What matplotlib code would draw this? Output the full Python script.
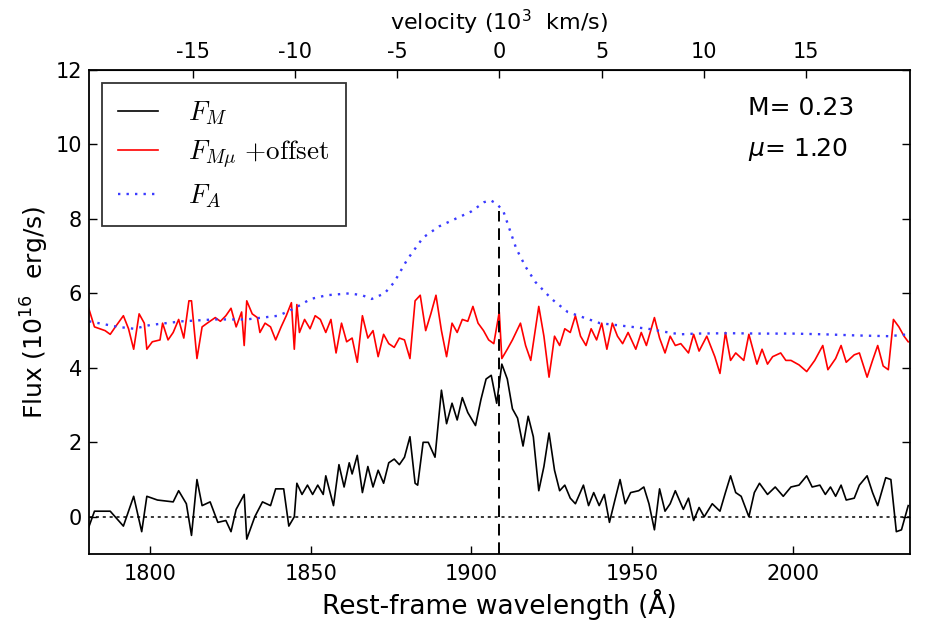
import numpy as np
import matplotlib
matplotlib.use("Agg")
import matplotlib.pyplot as plt

plt.rcParams['axes.unicode_minus'] = False
plt.rcParams['mathtext.fontset'] = 'dejavusans'

# ---- data ----
lam0 = 1908.73          # line centre (Angstrom)
c_kms = 299792.458

wl_M = [1780.0, 1782.7, 1787.6, 1791.7, 1794.9, 1797.4, 1799.0, 1802.3, 1807.2, 1808.9,
        1811.3, 1812.9, 1814.6, 1816.2, 1818.7, 1821.1, 1823.6, 1825.2, 1826.8, 1829.3,
        1830.1, 1832.6, 1835.0, 1837.5, 1839.1, 1841.6, 1843.2, 1844.9, 1845.7, 1847.3,
        1849.0, 1850.6, 1852.2, 1853.9, 1854.7, 1857.1, 1858.8, 1860.4, 1862.0, 1862.9,
        1864.5, 1866.1, 1867.8, 1869.4, 1871.0, 1872.7, 1874.3, 1876.0, 1877.6, 1879.2,
        1880.9, 1882.5, 1883.3, 1885.0, 1886.6, 1888.7, 1890.7, 1892.3, 1894.0, 1895.6,
        1897.2, 1898.9, 1901.3, 1903.0, 1904.6, 1906.2, 1907.9, 1909.5, 1911.2, 1912.8,
        1914.4, 1916.1, 1917.7, 1919.3, 1921.0, 1922.6, 1924.2, 1925.9, 1927.5, 1929.1,
        1930.8, 1932.4, 1934.9, 1936.5, 1938.1, 1939.8, 1941.4, 1943.0, 1944.7, 1946.3,
        1947.9, 1949.6, 1952.1, 1953.7, 1955.3, 1957.0, 1958.6, 1960.3, 1961.9, 1963.5,
        1966.0, 1967.6, 1969.2, 1970.9, 1972.5, 1975.0, 1977.4, 1979.1, 1980.7, 1982.3,
        1984.0, 1986.4, 1988.1, 1989.7, 1992.2, 1994.6, 1997.1, 1999.5, 2002.0, 2004.4,
        2006.1, 2008.5, 2010.2, 2011.8, 2013.4, 2015.1, 2016.7, 2019.2, 2020.8, 2023.2,
        2024.9, 2026.5, 2029.0, 2030.6, 2032.3, 2033.9, 2036.0]
flux_M = [-0.5, 0.15, 0.15, -0.25, 0.55, -0.4, 0.55, 0.45, 0.4, 0.7,
          0.35, -0.5, 1.0, 0.3, 0.4, -0.15, -0.1, -0.4, 0.2, 0.6,
          -0.6, 0.0, 0.4, 0.3, 0.75, 0.75, -0.25, 0.0, 0.9, 0.6,
          0.85, 0.6, 0.85, 0.6, 1.1, 0.3, 1.4, 0.8, 1.45, 1.15,
          1.65, 0.65, 1.35, 0.8, 1.25, 0.9, 1.45, 1.55, 1.4, 1.6,
          2.15, 0.9, 0.85, 2.0, 2.0, 1.6, 3.4, 2.5, 3.05, 2.6,
          3.2, 2.8, 2.45, 3.15, 3.7, 3.8, 3.05, 4.1, 3.7, 2.9,
          2.65, 1.9, 2.7, 2.15, 0.7, 1.35, 2.25, 1.25, 0.7, 0.85,
          0.5, 0.35, 0.85, 0.3, 0.65, 0.3, 0.6, -0.15, 0.45, 1.0,
          0.35, 0.65, 0.7, 0.8, 0.35, -0.35, 0.75, 0.15, 0.35, 0.7,
          0.2, 0.5, -0.1, 0.25, 0.0, 0.35, 0.15, 0.65, 1.1, 0.65,
          0.55, 0.0, 0.65, 0.9, 0.6, 0.8, 0.55, 0.8, 0.85, 1.1,
          0.8, 0.85, 0.6, 0.8, 0.55, 0.85, 0.45, 0.5, 0.85, 1.1,
          0.65, 0.3, 1.05, 1.0, -0.4, -0.35, 0.3]

wl_Mmu = [1780.0, 1782.7, 1784.3, 1786.0, 1787.6, 1789.2, 1791.7, 1793.3, 1794.9, 1796.6,
          1798.2, 1799.0, 1800.7, 1803.1, 1803.9, 1805.6, 1807.2, 1808.9, 1810.5, 1812.1,
          1812.9, 1814.6, 1816.2, 1817.8, 1820.3, 1821.9, 1823.6, 1825.2, 1826.8, 1828.5,
          1829.3, 1830.1, 1831.8, 1833.4, 1834.2, 1835.8, 1837.5, 1839.1, 1840.8, 1842.4,
          1844.0, 1844.9, 1845.7, 1846.5, 1848.1, 1849.8, 1851.4, 1853.0, 1854.7, 1856.3,
          1857.9, 1859.6, 1861.2, 1862.9, 1864.5, 1866.1, 1867.8, 1869.4, 1871.0, 1872.7,
          1874.3, 1876.0, 1877.6, 1879.2, 1880.9, 1882.5, 1884.1, 1885.8, 1887.4, 1889.0,
          1890.7, 1892.3, 1894.0, 1895.6, 1897.2, 1898.9, 1900.5, 1902.1, 1903.8, 1905.4,
          1907.0, 1908.7, 1909.5, 1911.2, 1912.8, 1915.3, 1916.9, 1918.5, 1921.0, 1922.6,
          1924.2, 1925.9, 1927.5, 1929.1, 1930.8, 1932.4, 1934.0, 1935.7, 1937.3, 1939.0,
          1940.6, 1942.2, 1943.9, 1945.5, 1947.1, 1948.8, 1951.2, 1952.9, 1954.5, 1957.0,
          1958.6, 1960.3, 1961.9, 1963.5, 1965.2, 1967.6, 1969.2, 1970.9, 1973.3, 1975.8,
          1977.4, 1979.1, 1980.7, 1982.3, 1984.8, 1986.4, 1988.9, 1990.5, 1992.2, 1993.8,
          1996.3, 1997.9, 1999.5, 2002.0, 2004.4, 2006.9, 2009.4, 2011.0, 2013.4, 2015.1,
          2016.7, 2019.2, 2020.8, 2023.2, 2024.9, 2026.5, 2028.2, 2029.8, 2031.4, 2033.1,
          2034.7, 2036.0]
flux_Mmu = [5.85, 5.1, 5.05, 5.0, 4.9, 5.1, 5.4, 5.05, 4.5, 5.45,
            5.2, 4.5, 4.7, 4.75, 5.2, 4.75, 4.95, 5.3, 4.8, 5.8,
            5.8, 4.25, 5.1, 5.2, 5.35, 5.25, 5.4, 5.6, 5.1, 5.5,
            4.6, 5.8, 5.45, 5.35, 4.95, 5.2, 5.1, 4.75, 5.1, 5.4,
            5.75, 4.5, 5.7, 4.95, 5.3, 5.05, 5.4, 5.3, 4.95, 5.3,
            4.4, 5.2, 4.7, 4.8, 4.15, 5.4, 4.8, 5.0, 4.3, 4.9,
            4.65, 4.55, 4.8, 4.75, 4.25, 5.8, 5.95, 5.0, 5.45, 5.95,
            5.0, 4.3, 5.2, 4.95, 5.3, 5.25, 5.65, 5.2, 5.0, 4.75,
            4.65, 5.5, 4.25, 4.5, 4.75, 5.2, 4.6, 4.2, 5.65, 4.85,
            3.75, 4.85, 4.6, 5.05, 4.95, 5.4, 4.85, 4.6, 5.05, 4.75,
            5.2, 4.5, 5.2, 4.85, 4.65, 4.95, 4.5, 4.95, 4.6, 5.35,
            4.8, 4.4, 4.85, 4.6, 4.65, 4.4, 4.9, 4.45, 4.85, 4.3,
            3.85, 4.95, 4.2, 4.4, 4.2, 4.9, 4.1, 4.5, 4.1, 4.3,
            4.4, 4.2, 4.2, 4.08, 3.9, 4.2, 4.6, 3.95, 4.25, 4.6,
            4.15, 4.35, 4.4, 3.75, 4.2, 4.6, 4.05, 3.95, 5.3, 5.1,
            4.85, 4.7]

wl_A = [1781, 1790, 1795, 1800, 1810, 1820, 1830, 1840, 1845, 1850,
        1855, 1862, 1866, 1869, 1873, 1876, 1880, 1885, 1890, 1895,
        1900, 1904, 1906, 1908, 1910, 1912, 1914, 1917, 1920, 1925,
        1930, 1935, 1940, 1945, 1950, 1955, 1960, 1965, 1970, 1980,
        1990, 2000, 2010, 2020, 2030, 2036]
flux_A = [5.25, 5.1, 5.05, 5.15, 5.25, 5.3, 5.3, 5.4, 5.6, 5.85,
          5.95, 6.0, 5.95, 5.85, 6.0, 6.3, 6.9, 7.5, 7.8, 8.0,
          8.2, 8.45, 8.5, 8.4, 8.2, 7.7, 7.2, 6.7, 6.3, 5.85,
          5.5, 5.35, 5.2, 5.15, 5.1, 5.05, 4.97, 4.9, 4.92, 4.93,
          4.92, 4.92, 4.9, 4.87, 4.85, 4.9]

x_ticks = [1800, 1850, 1900, 1950, 2000]
y_ticks = [0, 2, 4, 6, 8, 10, 12]
v_ticks = [-15, -10, -5, 0, 5, 10, 15]
M_val = 0.23
mu_val = 1.20

# ---- figure ----
fig = plt.figure(figsize=(9.37, 6.22), dpi=100)
ax = fig.add_axes([0.095, 0.1093, 0.876, 0.7782])

ax.plot(wl_M, flux_M, color='black', lw=1.2, label=r'$F_M$')
ax.plot(wl_Mmu, flux_Mmu, color='red', lw=1.2, label=r'$F_{M\mu}\ {+}\mathrm{offset}$')
ax.plot(wl_A, flux_A, color='#3a3aff', lw=1.7, ls=(0, (1, 2.6)), label=r'$F_A$')

ax.axhline(0, color='black', lw=1.1, ls=(0, (2, 2.5)))
ax.vlines(lam0, -1, 8.2, color='black', lw=1.4, ls=(0, (6, 3.5)))

ax.set_xlim(1781, 2036.5)
ax.set_ylim(-1, 12)
ax.set_xticks(x_ticks)
ax.set_yticks(y_ticks)
ax.tick_params(axis='both', direction='in', labelsize=15, length=6, width=1)
ax.tick_params(axis='y', right=True, pad=5)
ax.tick_params(axis='x', pad=7)
for s in ax.spines.values():
    s.set_linewidth(1.3)

ax.set_xlabel('Rest-frame wavelength (Å)', fontsize=19, labelpad=4)
ax.set_ylabel(r'Flux ($10^{16}$  erg/s)', fontsize=18, labelpad=3)

def lam2v(l):
    return (np.asarray(l) / lam0 - 1.0) * c_kms / 1000.0

def v2lam(v):
    return lam0 * (1.0 + np.asarray(v) * 1000.0 / c_kms)

sec = ax.secondary_xaxis('top', functions=(lam2v, v2lam))
sec.set_xticks(v_ticks)
sec.set_xticklabels([str(v) for v in v_ticks])
sec.tick_params(direction='in', labelsize=15, length=6, width=1, pad=6)
sec.set_xlabel(r'velocity ($10^3$  km/s)', fontsize=16, labelpad=8)

leg = ax.legend(loc='upper left', fontsize=19.5, handlelength=1.48,
                handletextpad=1.1, borderpad=0.6, labelspacing=0.45,
                fancybox=False, borderaxespad=0.48)
leg.get_frame().set_edgecolor('black')
leg.get_frame().set_linewidth(1.3)
for t in leg.get_texts():
    t.set_math_fontfamily('cm')

ax.text(0.803, 0.921, f'M= {M_val:.2f}', transform=ax.transAxes, ha='left',
        va='center', fontsize=18)
ax.text(0.803, 0.835, r'$\mu$' + f'= {mu_val:.2f}', transform=ax.transAxes,
        ha='left', va='center', fontsize=18)

fig.savefig('out.png', dpi=100)
